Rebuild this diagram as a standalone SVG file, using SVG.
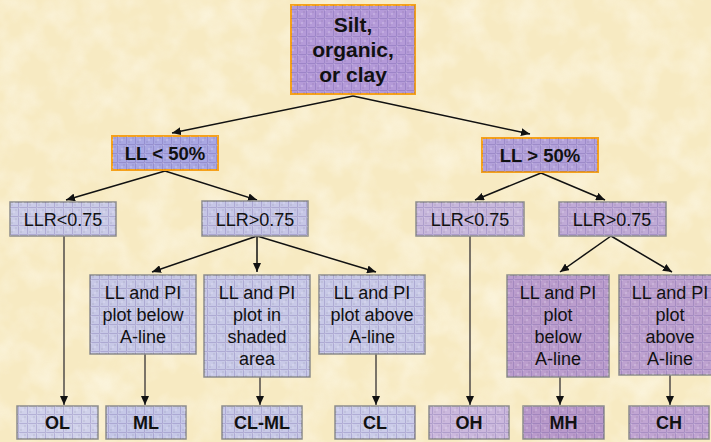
<svg xmlns="http://www.w3.org/2000/svg" width="711" height="442" viewBox="0 0 711 442">
  <defs>
    <style>
      .box { stroke: #8c8c8c; stroke-width: 1.5; }
      .key { stroke: #f5a11c; stroke-width: 2; }
      .grid { fill: url(#mesh); stroke: none; }
      .t { font-family: "Liberation Sans", Arial, sans-serif; font-size: 18px; fill: #111; text-anchor: middle; }
      .b { font-weight: bold; }
      .link { fill: none; stroke: #111; stroke-width: 1.5; marker-end: url(#tip); }
      .drop { fill: none; stroke: #5a5550; stroke-width: 1.6; marker-end: url(#tip); }
    </style>
    <!-- fine woven texture laid over every box -->
    <pattern id="mesh" width="9" height="9" patternUnits="userSpaceOnUse">
      <rect x="0" y="0" width="2" height="2" fill="#ffffff" opacity="0.18"/>
      <rect x="4" y="4" width="2" height="2" fill="#ffffff" opacity="0.18"/>
      <rect x="2" y="6" width="2" height="2" fill="#000000" opacity="0.05"/>
      <rect x="6" y="2" width="2" height="2" fill="#000000" opacity="0.05"/>
      <path d="M0 0.5 H9 M0.5 0 V9" stroke="#4a3a8a" stroke-width="1" opacity="0.22"/>
    </pattern>
    <!-- parchment mottling for the page -->
    <filter id="parchment" x="0" y="0" width="100%" height="100%">
      <feTurbulence type="fractalNoise" baseFrequency="0.035" numOctaves="3" seed="7" result="n"/>
      <feColorMatrix in="n" type="matrix" values="0 0 0 0 1  0 0 0 0 0.98  0 0 0 0 0.9  1.2 0 0 0 -0.45"/>
    </filter>
    <marker id="tip" viewBox="0 0 9 8" refX="9" refY="4" markerWidth="9" markerHeight="8" markerUnits="userSpaceOnUse" orient="auto">
      <path d="M0,0 L9,4 L0,8 z" fill="#111"/>
    </marker>
  </defs>

  <rect x="0" y="0" width="711" height="442" fill="#f7eac2"/>
  <rect x="0" y="0" width="711" height="442" filter="url(#parchment)" opacity="0.8"/>

  <g id="connectors">
    <path class="link" d="M353,96 L172,133"/>
    <path class="link" d="M353,96 L530,134"/>
    <path class="link" d="M165,171 L66,200"/>
    <path class="link" d="M165,171 L257,200"/>
    <path class="link" d="M541,173 L475,200"/>
    <path class="link" d="M541,173 L605,200"/>
    <path class="link" d="M257,236 L152,272"/>
    <path class="link" d="M257,236 L257,272"/>
    <path class="link" d="M257,236 L376,272"/>
    <path class="link" d="M611,236 L560,272"/>
    <path class="link" d="M611,236 L672,272"/>
    <path class="drop" d="M64,236 L64,405"/>
    <path class="drop" d="M145,354 L145,405"/>
    <path class="drop" d="M260,377 L260,405"/>
    <path class="drop" d="M376,354 L376,405"/>
    <path class="drop" d="M470,236 L470,405"/>
    <path class="drop" d="M560,377 L560,405"/>
    <path class="drop" d="M670,375 L670,405"/>
  </g>

  <g id="root">
    <rect class="key" x="291" y="5" width="124" height="89" fill="#b49ad8"/>
    <rect class="grid" x="291" y="5" width="124" height="89"/>
    <text class="t b" font-size="21" x="353" y="32" style="font-size:21px">Silt,</text>
    <text class="t b" x="353" y="57" style="font-size:21px">organic,</text>
    <text class="t b" x="353" y="82" style="font-size:21px">or clay</text>
  </g>

  <g id="ll-low">
    <rect class="key" x="112" y="136" width="106" height="34" fill="#a9a7e2"/>
    <rect class="grid" x="112" y="136" width="106" height="34"/>
    <text class="t b" x="165" y="160" style="font-size:18.5px">LL &lt; 50%</text>
  </g>

  <g id="ll-high">
    <rect class="key" x="482" y="138" width="116" height="34" fill="#b3a1da"/>
    <rect class="grid" x="482" y="138" width="116" height="34"/>
    <text class="t b" x="540" y="162" style="font-size:18.5px">LL &gt; 50%</text>
  </g>

  <g id="llr-low-l">
    <rect class="box" x="10" y="202" width="106" height="34" fill="#cacbe7"/>
    <rect class="grid" x="10" y="202" width="106" height="34"/>
    <text class="t" x="63" y="226">LLR&lt;0.75</text>
  </g>

  <g id="llr-high-l">
    <rect class="box" x="202" y="201" width="106" height="35" fill="#c6c6e6"/>
    <rect class="grid" x="202" y="201" width="106" height="35"/>
    <text class="t" x="255" y="226">LLR&gt;0.75</text>
  </g>

  <g id="llr-low-r">
    <rect class="box" x="416" y="202" width="108" height="34" fill="#c8b8dc"/>
    <rect class="grid" x="416" y="202" width="108" height="34"/>
    <text class="t" x="470" y="226">LLR&lt;0.75</text>
  </g>

  <g id="llr-high-r">
    <rect class="box" x="559" y="202" width="107" height="34" fill="#c0aad6"/>
    <rect class="grid" x="559" y="202" width="107" height="34"/>
    <text class="t" x="612" y="226">LLR&gt;0.75</text>
  </g>

  <g id="below-low">
    <rect class="box" x="90" y="275" width="106" height="79" fill="#c7c8e6"/>
    <rect class="grid" x="90" y="275" width="106" height="79"/>
    <text class="t" x="143" y="299">LL and PI</text>
    <text class="t" x="143" y="321">plot below</text>
    <text class="t" x="143" y="343">A-line</text>
  </g>

  <g id="shaded-low">
    <rect class="box" x="204" y="275" width="106" height="102" fill="#c8c9e7"/>
    <rect class="grid" x="204" y="275" width="106" height="102"/>
    <text class="t" x="257" y="299">LL and PI</text>
    <text class="t" x="257" y="321">plot in</text>
    <text class="t" x="257" y="343">shaded</text>
    <text class="t" x="257" y="365">area</text>
  </g>

  <g id="above-low">
    <rect class="box" x="319" y="275" width="106" height="79" fill="#c8c9e7"/>
    <rect class="grid" x="319" y="275" width="106" height="79"/>
    <text class="t" x="372" y="299">LL and PI</text>
    <text class="t" x="372" y="321">plot above</text>
    <text class="t" x="372" y="343">A-line</text>
  </g>

  <g id="below-high">
    <rect class="box" x="507" y="275" width="102" height="102" fill="#bb9dcd"/>
    <rect class="grid" x="507" y="275" width="102" height="102"/>
    <text class="t" x="558" y="299">LL and PI</text>
    <text class="t" x="558" y="321">plot</text>
    <text class="t" x="558" y="343">below</text>
    <text class="t" x="558" y="365">A-line</text>
  </g>

  <g id="above-high">
    <rect class="box" x="619" y="275" width="102" height="100" fill="#bea2d0"/>
    <rect class="grid" x="619" y="275" width="102" height="100"/>
    <text class="t" x="670" y="299">LL and PI</text>
    <text class="t" x="670" y="321">plot</text>
    <text class="t" x="670" y="343">above</text>
    <text class="t" x="670" y="365">A-line</text>
  </g>

  <g id="OL">
    <rect class="box" x="17" y="406" width="81" height="33" fill="#d0d1ea"/>
    <rect class="grid" x="17" y="406" width="81" height="33"/>
    <text class="t b" x="57.5" y="429">OL</text>
  </g>
  <g id="ML">
    <rect class="box" x="106" y="406" width="80" height="33" fill="#c5c7e7"/>
    <rect class="grid" x="106" y="406" width="80" height="33"/>
    <text class="t b" x="146" y="429">ML</text>
  </g>
  <g id="CL-ML">
    <rect class="box" x="222" y="406" width="80" height="33" fill="#c8c9e7"/>
    <rect class="grid" x="222" y="406" width="80" height="33"/>
    <text class="t b" x="262" y="429">CL-ML</text>
  </g>
  <g id="CL">
    <rect class="box" x="335" y="406" width="80" height="33" fill="#cbcce9"/>
    <rect class="grid" x="335" y="406" width="80" height="33"/>
    <text class="t b" x="375" y="429">CL</text>
  </g>
  <g id="OH">
    <rect class="box" x="429" y="406" width="80" height="33" fill="#cbb8dd"/>
    <rect class="grid" x="429" y="406" width="80" height="33"/>
    <text class="t b" x="469" y="429">OH</text>
  </g>
  <g id="MH">
    <rect class="box" x="523" y="406" width="81" height="33" fill="#b99acb"/>
    <rect class="grid" x="523" y="406" width="81" height="33"/>
    <text class="t b" x="563.5" y="429">MH</text>
  </g>
  <g id="CH">
    <rect class="box" x="629" y="406" width="80" height="33" fill="#c1a5d2"/>
    <rect class="grid" x="629" y="406" width="80" height="33"/>
    <text class="t b" x="669" y="429">CH</text>
  </g>
</svg>
